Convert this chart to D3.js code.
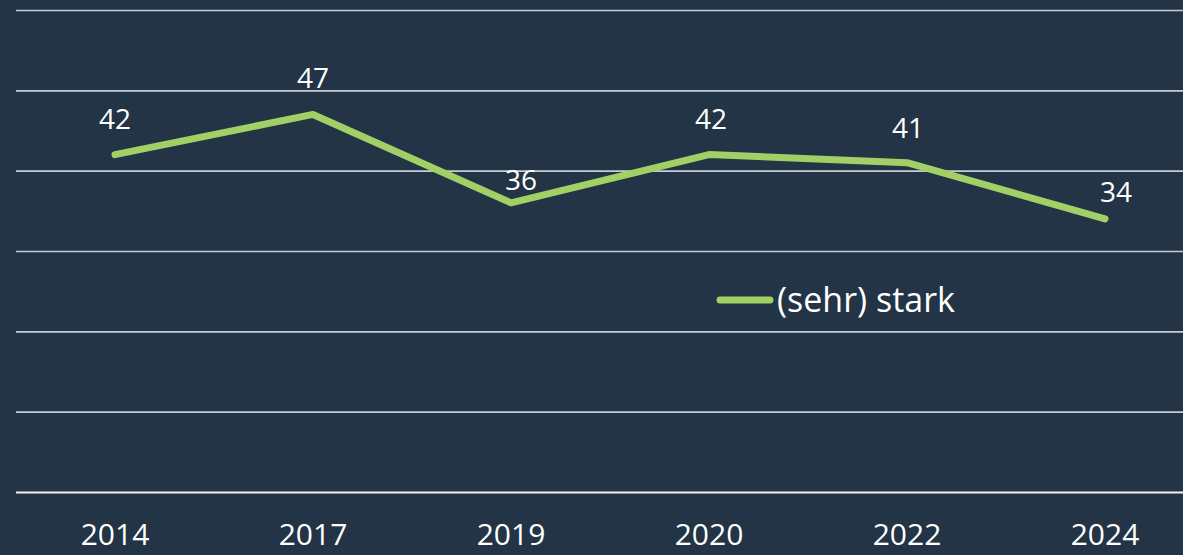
<!DOCTYPE html>
<html>
<head>
<meta charset="utf-8">
<script src="https://cdn.jsdelivr.net/npm/d3@7"></script>
<style>
  html, body { margin: 0; padding: 0; background: #223445; }
  svg { display: block; }
  text { font-family: "Open Sans", "Noto Sans", sans-serif; fill: #ffffff; }
</style>
</head>
<body>
<svg id="chart"></svg>
<script>
// chart data
var years = ["2014", "2017", "2019", "2020", "2022", "2024"]
var values = [42, 47, 36, 42, 41, 34]
var yTicks = [0, 10, 20, 30, 40, 50, 60]
var seriesName = "(sehr) stark"

// hand placed label nudges, as in the original
var labelLift = [26, 26, 13, 26, 25, 17]
var labelShift = [0, 0, 10, 2, 1, 11]

var width = 1183
var height = 555
var color = "#a2d066"

var svg = d3.select("#chart")
    .attr("width", width)
    .attr("height", height)

var x = d3.scaleBand()
    .domain(years)
    .range([16, 1204])
var y = d3.scaleLinear()
    .domain([0, 60])
    .range([492, 10])

function cx(d) { return x(d) + x.bandwidth() / 2 }

// grid lines
svg.append("g")
    .attr("class", "grid")
    .attr("transform", "translate(16,0)")
    .call(d3.axisLeft(y).tickValues(yTicks).tickSize(-(width - 16)).tickFormat(""))
    .call(function(g) { g.select(".domain").remove() })
    .selectAll("line")
    .attr("stroke", function(d) { return d === 0 ? "#f2f2f2" : "#c9cdd1" })
    .attr("stroke-width", function(d) { return d === 0 ? 2.2 : 1.6 })

// x axis labels
var xa = svg.append("g")
    .attr("transform", "translate(0,492)")
    .call(d3.axisBottom(x).tickSize(0).tickPadding(32))
xa.select(".domain").remove()
xa.selectAll("text")
    .attr("font-size", 30)
    .attr("font-family", "'Open Sans', 'Noto Sans', sans-serif")
    .attr("fill", "#ffffff")

var line = d3.line()
    .x(function(d, i) { return cx(years[i]) })
    .y(function(d) { return y(d) })

svg.append("path")
    .datum(values)
    .attr("fill", "none")
    .attr("stroke", color)
    .attr("stroke-width", 7)
    .attr("stroke-linecap", "round")
    .attr("stroke-linejoin", "round")
    .attr("d", line)

// data labels
svg.append("g").selectAll("text")
    .data(values)
    .join("text")
    .attr("x", function(d, i) { return cx(years[i]) + labelShift[i] })
    .attr("y", function(d, i) { return y(d) - labelLift[i] })
    .attr("text-anchor", "middle")
    .attr("font-size", 28)
    .text(function(d) { return d })

// legend
var lg = svg.append("g").attr("transform", "translate(717,300)")
lg.append("line")
    .attr("x1", 3).attr("x2", 53)
    .attr("stroke", color)
    .attr("stroke-width", 7)
    .attr("stroke-linecap", "round")
lg.append("text")
    .attr("x", 60)
    .attr("y", 12)
    .attr("font-size", 34)
    .text(seriesName)
</script>
</body>
</html>
